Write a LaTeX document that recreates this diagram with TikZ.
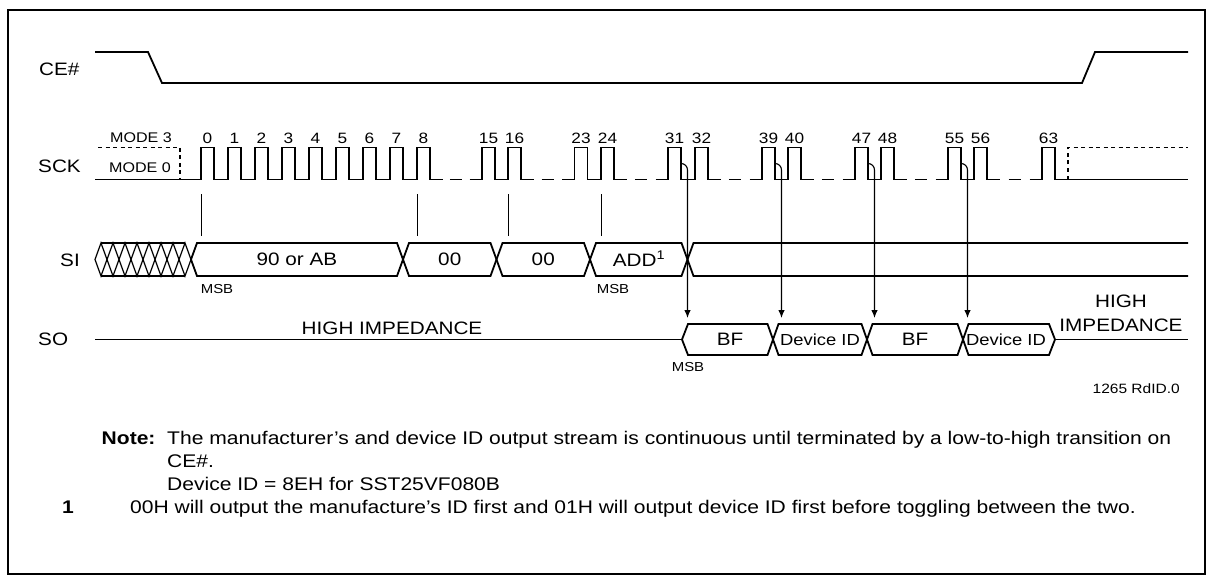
\documentclass[tikz,border=0pt]{standalone}
\usepackage{fontspec}
\setmainfont{Liberation Sans}[FakeStretch=1.15]
\usetikzlibrary{arrows.meta}
\begin{document}
\begin{tikzpicture}[x=1pt,y=-1pt,
  sig/.style={line width=1.8pt, line join=miter},
  thinsig/.style={line width=1.2pt, line join=miter},
  tick/.style={line width=1pt},
  arr/.style={line width=1.1pt, -{Latex[length=8pt,width=6.5pt]}},
  dsh/.style={line width=1.6pt, dash pattern=on 4pt off 3.5pt},
  lab/.style={font=\fontsize{18}{20}\selectfont, inner sep=0pt},
  bustext/.style={font=\fontsize{18}{20}\selectfont, inner sep=0pt},
  idtext/.style={font=\fontsize{16}{18}\selectfont, inner sep=0pt},
  num/.style={font=\fontsize{15}{17}\selectfont, inner sep=0pt},
  smalltext/.style={font=\fontsize{13}{15}\selectfont, inner sep=0pt},
  modetext/.style={font=\fontsize{14}{16}\selectfont, inner sep=0pt},
  notetext/.style={font=\fontsize{18.3}{22}\selectfont, inner sep=0pt, anchor=base west},
  notebold/.style={font=\fontsize{18.3}{22}\selectfont\bfseries, inner sep=0pt, anchor=base west},
]
\useasboundingbox (0,0) rectangle (1213,583);
\draw[line width=1.5pt] (8,10) rectangle (1205,574);

% signal names
\node[lab, anchor=west] (ce) at (39,69) {CE\#};
\node[lab, anchor=west] (sck) at (38,166) {SCK};
\node[lab, anchor=west] (si) at (60,260) {SI};
\node[lab, anchor=west] (so) at (38,339.5) {SO};

% CE#
\draw[sig] (95,52) -- (148,52) -- (162,83) -- (1082,83) -- (1095,52) -- (1188,52);

% SCK mode area
\draw[dsh] (98,147.5) -- (180,147.5) -- (180,179.5);
\node[modetext] (m3) at (141,137.5) {MODE 3};
\node[modetext] (m0) at (140,167.5) {MODE 0};

% SCK pulses
\draw[sig] (95,179.5) foreach \r in {201,228,...,417}{ -- (\r,179.5) -- (\r,147.5) -- (\r+13,147.5) -- (\r+13,179.5)} -- (442.5,179.5);
\draw[sig] (469.5,179.5) foreach \r in {482,508}{ -- (\r,179.5) -- (\r,147.5) -- (\r+13,147.5) -- (\r+13,179.5)} -- (533.5,179.5);
\draw[sig] (562,179.5) foreach \r in {574.5,601}{ -- (\r,179.5) -- (\r,147.5) -- (\r+13,147.5) -- (\r+13,179.5)} -- (626.5,179.5);
\draw[sig] (655.5,179.5) foreach \r in {668,695}{ -- (\r,179.5) -- (\r,147.5) -- (\r+13,147.5) -- (\r+13,179.5)} -- (720.5,179.5);
\draw[sig] (749.5,179.5) foreach \r in {762,788}{ -- (\r,179.5) -- (\r,147.5) -- (\r+13,147.5) -- (\r+13,179.5)} -- (813.5,179.5);
\draw[sig] (842.5,179.5) foreach \r in {855,881}{ -- (\r,179.5) -- (\r,147.5) -- (\r+13,147.5) -- (\r+13,179.5)} -- (906.5,179.5);
\draw[sig] (935.5,179.5) foreach \r in {948,974}{ -- (\r,179.5) -- (\r,147.5) -- (\r+13,147.5) -- (\r+13,179.5)} -- (999.5,179.5);
\draw[sig] (1029.5,179.5) -- (1042,179.5) -- (1042,147.5) -- (1055,147.5) -- (1055,179.5) -- (1188,179.5);
\foreach \m in {456,547.75,641,735,828,921,1014.75}
  \draw[sig] (\m-6.25,179.5) -- (\m+6.25,179.5);
\draw[dsh] (1068,179.5) -- (1068,147.5) -- (1188,147.5);

% clock numbers
\foreach \r/\t in {201/0,228/1,255/2,282/3,309/4,336/5,363/6,390/7,417/8,482/15,508/16,574.5/23,601/24,668/31,695/32,762/39,788/40,855/47,881/48,948/55,974/56,1042/63}
  \node[num] (n\t) at (\r+6.5,138) {\t};

% ticks
\foreach \x in {201,417,508,601}
  \draw[tick] (\x,194) -- (\x,236);

% SI bus
\draw[sig] (101,243) -- (185,243);
\draw[sig] (101,276) -- (185,276);
\foreach \c in {95,107,...,179}
  \draw[thinsig] (\c,259.5) -- (\c+6,243) -- (\c+12,259.5) -- (\c+6,276) -- cycle;
\draw[sig] (191,259.5) -- (197,243) -- (397,243) -- (403,259.5) -- (397,276) -- (197,276) -- cycle;
\draw[sig] (403,259.5) -- (409,243) -- (490.5,243) -- (496.5,259.5) -- (490.5,276) -- (409,276) -- cycle;
\draw[sig] (496.5,259.5) -- (502.5,243) -- (584,243) -- (590,259.5) -- (584,276) -- (502.5,276) -- cycle;
\draw[sig] (590,259.5) -- (596,243) -- (681.5,243) -- (687.5,259.5) -- (681.5,276) -- (596,276) -- cycle;
\draw[sig] (1188,243) -- (693.5,243) -- (687.5,259.5) -- (693.5,276) -- (1188,276);
\node[bustext] (d1) at (297,259.5) {90 or AB};
\node[bustext] (d2) at (449.75,259.5) {00};
\node[bustext] (d3) at (543.25,259.5) {00};
\node[bustext, anchor=base] (d4) at (639,266) {ADD\textsuperscript{1}};
\node[smalltext] (msb1) at (217,289) {MSB};
\node[smalltext] (msb2) at (613,289) {MSB};

% SO bus
\draw[sig] (95,339.5) -- (682,339.5);
\draw[sig] (682,339.5) -- (688,324) -- (767.5,324) -- (773,339.5) -- (767.5,355) -- (688,355) -- cycle;
\draw[sig] (773,339.5) -- (778.5,324) -- (861.5,324) -- (867,339.5) -- (861.5,355) -- (778.5,355) -- cycle;
\draw[sig] (867,339.5) -- (872.5,324) -- (957.5,324) -- (963,339.5) -- (957.5,355) -- (872.5,355) -- cycle;
\draw[sig] (963,339.5) -- (968.5,324) -- (1049,324) -- (1055,339.5) -- (1049,355) -- (968.5,355) -- cycle;
\draw[sig] (1055,339.5) -- (1188,339.5);
\node[bustext] (o1) at (730,339.5) {BF};
\node[idtext] (o2) at (820,339.5) {Device ID};
\node[bustext] (o3) at (915,339.5) {BF};
\node[idtext] (o4) at (1006,339.5) {Device ID};
\node[bustext] (hz1) at (392,328.5) {HIGH IMPEDANCE};
\node[bustext, align=center, font=\fontsize{18}{24}\selectfont] (hz2) at (1121,313) {HIGH\\IMPEDANCE};
\node[smalltext] (msb3) at (688,367) {MSB};
\node[smalltext, anchor=east, font=\fontsize{13.5}{15}\selectfont] (ref) at (1180,389) {1265 RdID.0};

% arrows from SCK to SO
\foreach \f/\n in {681/a,775/b,868/c,961/d}{
  \coordinate (s\n) at (\f,163.5);
  \coordinate (t\n) at (\f+6.5,318);
  \draw[arr] (s\n) .. controls (\f+3.6,163.5) and (\f+6.5,166.4) .. (\f+6.5,170) -- (t\n);
}

% notes
\node[notebold] (nt) at (101.5,444.5) {Note:};
\node[notetext] (l1) at (167,444.5) {The manufacturer’s and device ID output stream is continuous until terminated by a low-to-high transition on};
\node[notetext] (l2) at (167,467.5) {CE\#.};
\node[notetext] (l3) at (167,490.5) {Device ID = 8EH for SST25VF080B};
\node[notebold] (fn) at (62,513.5) {1};
\node[notetext] (l4) at (130,513.5) {00H will output the manufacture’s ID first and 01H will output device ID first before toggling between the two.};
\end{tikzpicture}
\end{document}
